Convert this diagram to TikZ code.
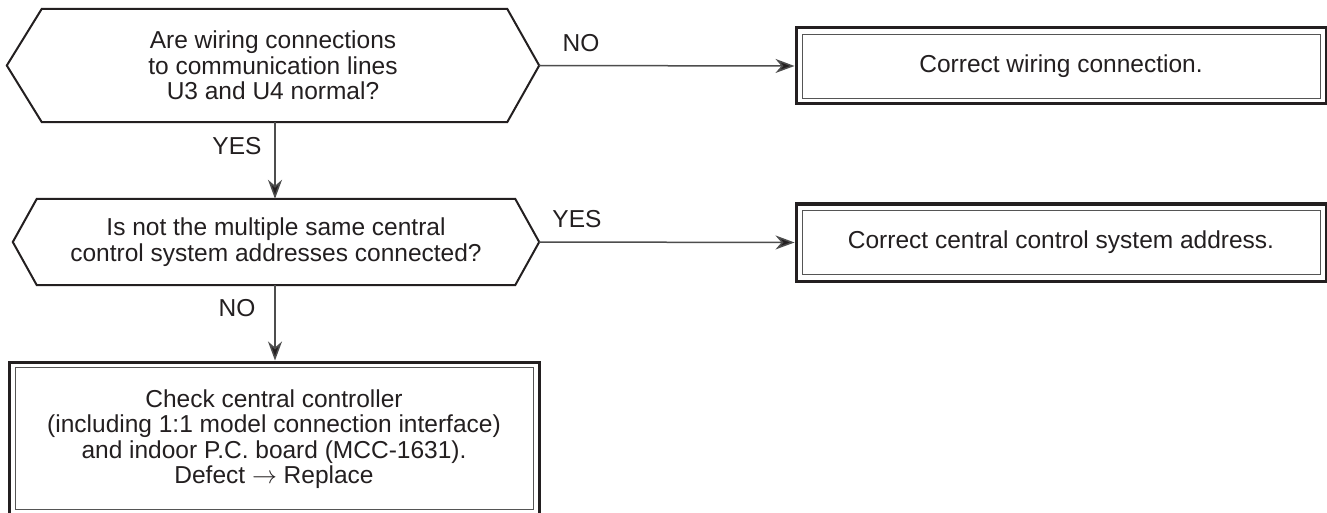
\documentclass[tikz,border=0pt]{standalone}
\usepackage{fontspec}
\setmainfont{Liberation Sans}
\usetikzlibrary{arrows.meta}
\definecolor{ink}{HTML}{231F20}
\definecolor{wire}{HTML}{4D4D4D}
\definecolor{rim}{HTML}{555555}
\begin{document}
\begin{tikzpicture}[x=1pt,y=-1pt,
  txt/.style={font=\fontsize{24.5}{25.5}\selectfont, text=ink, align=center, inner sep=0pt},
  hexbox/.style={txt, draw=none},
  hexline/.style={draw=ink, line width=2pt, line join=miter},
  dbox/.style={txt, draw=ink, line width=3pt},
  rimline/.style={draw=rim, line width=1.3pt},
  arr/.style={draw=wire, line width=1.5pt, -{Stealth[length=19pt,width=14pt,inset=6pt,fill=ink]}},
  lbl/.style={txt}
]
\useasboundingbox (0,0) rectangle (1327,513);
\fill[white] (0,0) rectangle (1327,513);

% decisions
\node[hexbox, minimum width=532pt, minimum height=113pt] (q1) at (273,65.5)
  {Are wiring connections\\to communication lines\\U3 and U4 normal?};
\draw[hexline] (q1.west) -- ([xshift=35pt]q1.north west) -- ([xshift=-32pt]q1.north east)
  -- (q1.east) -- ([xshift=-32pt]q1.south east) -- ([xshift=35pt]q1.south west) -- cycle;

\node[hexbox, minimum width=526pt, minimum height=86pt] (q2) at (276,242)
  {Is not the multiple same central\\control system addresses connected?};
\draw[hexline] (q2.west) -- ([xshift=24pt]q2.north west) -- ([xshift=-24pt]q2.north east)
  -- (q2.east) -- ([xshift=-24pt]q2.south east) -- ([xshift=24pt]q2.south west) -- cycle;

% actions
\node[dbox, minimum width=530pt, minimum height=76pt] (b1) at (1061,66) {Correct wiring connection.};
\draw[rimline] ([shift={(8,8)}]b1.north west) rectangle ([shift={(-7,-7)}]b1.south east);

\node[dbox, minimum width=530pt, minimum height=77pt] (b2) at (1061,242.5) {Correct central control system address.};
\draw[rimline] ([shift={(8,8)}]b2.north west) rectangle ([shift={(-7,-8)}]b2.south east);

\node[dbox, minimum width=530pt, minimum height=154pt] (b3) at (274,439)
  {Check central controller\\(including 1:1 model connection interface)\\and indoor P.C. board (MCC-1631).\\Defect $\rightarrow$ Replace};
\draw[rimline] ([shift={(8,7)}]b3.north west) rectangle ([shift={(-7,-8)}]b3.south east);

% connectors
\draw[arr] (q1.east) -- (b1.west);
\draw[arr] (q2.east) -- (b2.west);
\draw[arr] ([xshift=2pt]q1.south) -- ([xshift=2pt]q1.south |- q2.north);
\draw[arr] ([xshift=-1pt]q2.south) -- ([xshift=-1pt]q2.south |- b3.north);

% labels
\node[lbl] (n1) at (581,43) {NO};
\node[lbl] (y1) at (237,146) {YES};
\node[lbl] (y2) at (577,219) {YES};
\node[lbl] (n2) at (237,308) {NO};
\end{tikzpicture}
\end{document}
